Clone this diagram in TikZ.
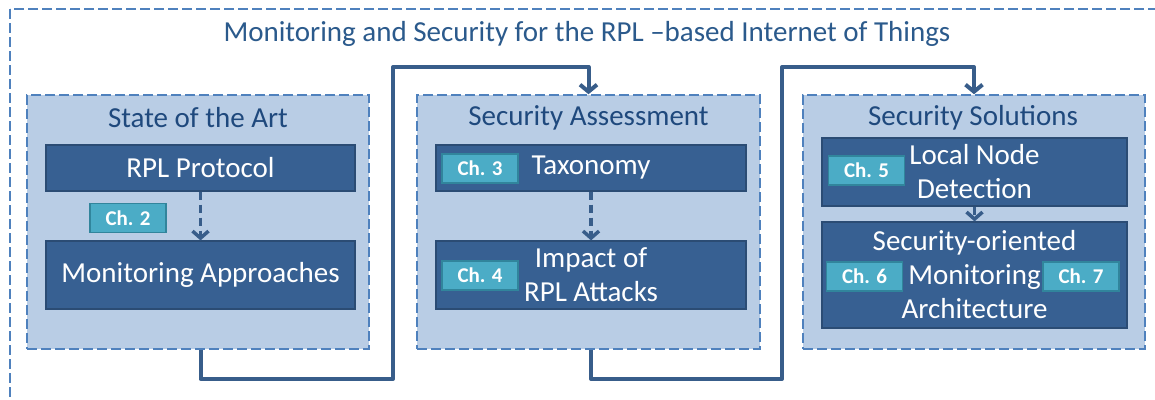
\documentclass[tikz,border=0pt]{standalone}
\usepackage{fontspec}
\setmainfont{Carlito}
\usetikzlibrary{arrows.meta,calc}
\definecolor{panelfill}{HTML}{B9CDE5}
\definecolor{paneldraw}{HTML}{4F81BD}
\definecolor{boxfill}{HTML}{376092}
\definecolor{boxdraw}{HTML}{2B4C74}
\definecolor{tagfill}{HTML}{4BACC6}
\definecolor{tagdraw}{HTML}{31859C}
\definecolor{titlecol}{HTML}{2B5A8C}
\definecolor{ptitlecol}{HTML}{1F497D}
\definecolor{conncol}{HTML}{385D8A}
\tikzset{
  panel/.style={draw=paneldraw, fill=panelfill, line width=1.5pt, dash pattern=on 10pt off 4pt, inner sep=0pt},
  outerframe/.style={draw=paneldraw, line width=1.5pt, dash pattern=on 10pt off 4pt},
  darkbox/.style={draw=boxdraw, fill=boxfill, line width=1.2pt, text=white, align=center, inner sep=0pt,
    font=\fontsize{29}{34}\selectfont},
  chtag/.style={draw=tagdraw, fill=tagfill, line width=1.5pt, text=white, inner sep=0pt,
    minimum width=76pt, minimum height=29pt, font=\bfseries\fontsize{21}{24}\selectfont},
  ptitle/.style={text=ptitlecol, font=\fontsize{29}{34}\selectfont, inner sep=0pt},
  conn/.style={draw=conncol, line width=4pt, line join=round, -{Straight Barb[length=7pt,width=17pt]}},
  inarrow/.style={draw=conncol, line width=3.5pt, dash pattern=on 8pt off 5pt, -{Straight Barb[length=7pt,width=16pt]}}
}
\begin{document}
\begin{tikzpicture}[x=1pt,y=-1pt]
\clip (0,0) rectangle (1155,399);
\fill[white] (0,0) rectangle (1155,399);
\draw[outerframe] (10,9) rectangle (1200,450);
\node[text=titlecol, font=\fontsize{29}{34}\selectfont, inner sep=0pt] (title) at (587,34) {Monitoring and Security for the RPL –based Internet of Things};

% panels
\node[panel, minimum width=342pt, minimum height=254pt] (p1) at (198,222) {};
\node[panel, minimum width=343pt, minimum height=254pt] (p2) at (588.5,222) {};
\node[panel, minimum width=342pt, minimum height=254pt] (p3) at (974,222) {};
\node[ptitle] (t1) at (198,118) {State of the Art};
\node[ptitle] (t2) at (588.5,118) {Security Assessment};
\node[ptitle] (t3) at (973,118) {Security Solutions};

% boxes
\node[darkbox, minimum width=309pt, minimum height=46pt] (rpl) at (200.5,168) {RPL Protocol};
\node[darkbox, minimum width=309pt, minimum height=68pt] (ma) at (200.5,275) {Monitoring Approaches};
\node[darkbox, minimum width=310pt, minimum height=46pt] (tax) at (591,168) {Taxonomy};
\node[darkbox, minimum width=310pt, minimum height=68pt] (imp) at (591,275) {Impact of\\RPL Attacks};
\node[darkbox, minimum width=305pt, minimum height=68pt] (lnd) at (974.5,172) {Local Node\\Detection};
\node[darkbox, minimum width=305pt, minimum height=106pt] (som) at (974.5,275) {Security-oriented\\Monitoring\\Architecture};

% tags
\node[chtag] (ch2) at (128,218) {Ch. 2};
\node[chtag] (ch3) at (480,168.5) {Ch. 3};
\node[chtag] (ch4) at (480,275.5) {Ch. 4};
\node[chtag] (ch5) at (866.5,170.5) {Ch. 5};
\node[chtag] (ch6) at (864.5,276.5) {Ch. 6};
\node[chtag] (ch7) at (1081,276.5) {Ch. 7};

% inner arrows
\draw[inarrow] (rpl) -- (ma);
\draw[inarrow] (tax) -- (imp);
\draw[inarrow] (lnd) -- (som);

% connectors
\coordinate (j1) at (393,379);
\coordinate (k1) at (393,67);
\coordinate (j2) at (782,379);
\coordinate (k2) at (782,67);
\draw[conn] (ma |- p1.south) |- (j1) -- (k1) -| (p2.north);
\draw[conn] (imp |- p2.south) |- (j2) -- (k2) -| (p3.north);
\end{tikzpicture}
\end{document}
